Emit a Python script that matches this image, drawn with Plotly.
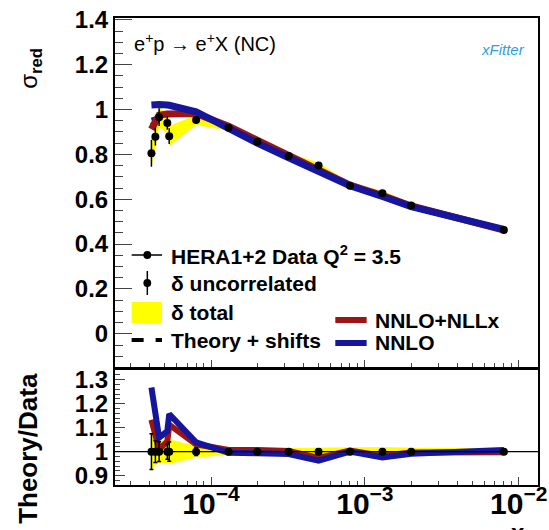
import plotly.graph_objects as go

# ---- data: reduced cross section at Q^2 = 3.5 GeV^2 ----
x_vals = [4.1e-5, 4.35e-5, 4.6e-5, 5.2e-5, 5.35e-5, 8.0e-5, 1.3e-4, 2.0e-4,
          3.2e-4, 5.0e-4, 8.0e-4, 1.3e-3, 2.0e-3, 8.0e-3]
sigma_data = [0.805, 0.879, 0.966, 0.940, 0.881, 0.953, 0.919, 0.856,
              0.793, 0.750, 0.660, 0.627, 0.572, 0.463]
err_uncor = [0.060, 0.040, 0.040, 0.030, 0.035, 0.015, 0.008, 0.008,
             0.008, 0.008, 0.007, 0.007, 0.006, 0.005]
err_total = [0.065, 0.050, 0.045, 0.045, 0.045, 0.022, 0.014, 0.012,
             0.012, 0.014, 0.011, 0.012, 0.009, 0.007]

# theory predictions at the data points
theory_nnlo = [1.020, 1.022, 1.022, 1.020, 1.019, 0.990, 0.915, 0.850,
               0.785, 0.722, 0.660, 0.612, 0.567, 0.466]
theory_nllx = [0.912, 0.945, 0.975, 0.980, 0.980, 0.982, 0.925, 0.862,
               0.795, 0.730, 0.663, 0.616, 0.570, 0.462]
# theory including correlated shifts
shifted_nnlo = [0.955, 0.960, 0.970, 0.975, 0.976, 0.980, 0.920, 0.857,
                0.790, 0.726, 0.661, 0.614, 0.569, 0.464]
shifted_nllx = [0.930, 0.950, 0.968, 0.975, 0.976, 0.980, 0.922, 0.859,
                0.792, 0.728, 0.662, 0.615, 0.570, 0.463]

BLUE = "#16169c"
RED = "#9c1414"
YELLOW = "#ffff00"
FONT = "Liberation Sans"

W, H = 549, 530
ML, MR, MT, MB = 115, 2, 18, 45
PW, PH = W - ML - MR, H - MT - MB


def px2x(p):
    return (p - ML) / PW


def py2y(p):
    return (H - MB - p) / PH


ratio_nnlo = [t / d for t, d in zip(theory_nnlo, sigma_data)]
ratio_nllx = [t / d for t, d in zip(theory_nllx, sigma_data)]
ratio_err = [e / d for e, d in zip(err_uncor, sigma_data)]
ratio_tot = [e / d for e, d in zip(err_total, sigma_data)]

fig = go.Figure()

# ---- upper panel ----
band_up = [d + e for d, e in zip(sigma_data, err_total)]
band_lo = [d - e for d, e in zip(sigma_data, err_total)]
fig.add_trace(go.Scatter(
    x=x_vals + x_vals[::-1], y=band_up + band_lo[::-1], fill="toself",
    fillcolor=YELLOW, line=dict(width=0), mode="lines",
    xaxis="x", yaxis="y", hoverinfo="skip"))
fig.add_trace(go.Scatter(x=x_vals, y=shifted_nllx, mode="lines",
                         line=dict(color=RED, width=4, dash="dash"),
                         xaxis="x", yaxis="y"))
fig.add_trace(go.Scatter(x=x_vals, y=shifted_nnlo, mode="lines",
                         line=dict(color=BLUE, width=4, dash="dash"),
                         xaxis="x", yaxis="y"))
fig.add_trace(go.Scatter(x=x_vals, y=theory_nllx, mode="lines",
                         line=dict(color=RED, width=7),
                         xaxis="x", yaxis="y"))
fig.add_trace(go.Scatter(x=x_vals, y=theory_nnlo, mode="lines",
                         line=dict(color=BLUE, width=7),
                         xaxis="x", yaxis="y"))
fig.add_trace(go.Scatter(
    x=x_vals, y=sigma_data, mode="markers",
    marker=dict(color="black", size=8),
    error_y=dict(type="data", array=err_uncor, color="black",
                 thickness=1.5, width=0),
    xaxis="x", yaxis="y"))

# ---- ratio panel ----
rb_up = [1 + e for e in ratio_tot]
rb_lo = [1 - e for e in ratio_tot]
fig.add_trace(go.Scatter(
    x=x_vals + x_vals[::-1], y=rb_up + rb_lo[::-1], fill="toself",
    fillcolor=YELLOW, line=dict(width=0), mode="lines",
    xaxis="x2", yaxis="y2", hoverinfo="skip"))
fig.add_trace(go.Scatter(x=x_vals, y=ratio_nllx, mode="lines",
                         line=dict(color=RED, width=6),
                         xaxis="x2", yaxis="y2"))
fig.add_trace(go.Scatter(x=x_vals, y=ratio_nnlo, mode="lines",
                         line=dict(color=BLUE, width=6),
                         xaxis="x2", yaxis="y2"))
fig.add_trace(go.Scatter(
    x=x_vals, y=[1.0] * len(x_vals), mode="markers",
    marker=dict(color="black", size=8),
    error_y=dict(type="data", array=ratio_err, color="black",
                 thickness=1.5, width=2),
    xaxis="x2", yaxis="y2"))

xrange = [-4.624, -1.875]
axis_common = dict(showline=True, linecolor="black", linewidth=2,
                   mirror=True, showgrid=False, zeroline=False)
tickfont = dict(family=FONT, size=24, color="black", weight="bold")

fig.update_layout(
    width=W, height=H, showlegend=False,
    margin=dict(l=ML, r=MR, t=MT, b=MB),
    paper_bgcolor="white", plot_bgcolor="white",
    xaxis=dict(type="log", range=xrange, domain=[0, 1], anchor="y",
               ticks="inside", ticklen=7, dtick=1, showticklabels=False,
               minor=dict(ticks="inside", ticklen=4, dtick="D1",
                          showgrid=False),
               **axis_common),
    yaxis=dict(range=[-0.148, 1.408], domain=[py2y(367), 1], anchor="x",
               tick0=0, dtick=0.2, ticks="inside", ticklen=17,
               minor=dict(ticks="inside", ticklen=8, dtick=0.05,
                          showgrid=False),
               tickfont=tickfont, **axis_common),
    xaxis2=dict(type="log", range=xrange, domain=[0, 1], anchor="y2",
                ticks="inside", ticklen=8, dtick=1,
                exponentformat="power", tickfont=tickfont,
                ticklabelstandoff=-8, ticklabeloverflow="allow",
                minor=dict(ticks="inside", ticklen=4, dtick="D1",
                           showgrid=False),
                **axis_common),
    yaxis2=dict(range=[0.861, 1.340], domain=[0, py2y(370)], anchor="x2",
                tick0=0.9, dtick=0.1, ticks="inside", ticklen=10,
                minor=dict(ticks="inside", ticklen=5, dtick=0.02,
                           showgrid=False),
                tickfont=tickfont, **axis_common),
)

# unity line in the ratio panel
fig.add_shape(type="line", xref="x2 domain", yref="y2", x0=0, x1=1,
              y0=1, y1=1, line=dict(color="black", width=1.2))

ann = []
# axis titles
ann.append(dict(text="σ<sub><b>red</b></sub>", x=px2x(28), y=py2y(68),
                xref="paper", yref="paper", showarrow=False, textangle=-90,
                xanchor="center", yanchor="middle",
                font=dict(family=FONT, size=24, color="black")))
ann.append(dict(text="<b>Theory/Data</b>", x=px2x(26), y=py2y(448),
                xref="paper", yref="paper", showarrow=False, textangle=-90,
                xanchor="center", yanchor="middle",
                font=dict(family=FONT, size=26, color="black")))
ann.append(dict(text="<b>x</b>", x=px2x(527), y=py2y(517),
                xref="paper", yref="paper", showarrow=False,
                xanchor="center", yanchor="top",
                font=dict(family=FONT, size=24, color="black")))
# process label
ann.append(dict(text="e<sup>+</sup>p → e<sup>+</sup>X (NC)",
                x=px2x(132), y=py2y(43), xref="paper", yref="paper",
                showarrow=False, xanchor="left", yanchor="middle",
                font=dict(family=FONT, size=20, color="black")))
# fitter logo
ann.append(dict(text="xFitter", x=px2x(511), y=py2y(50), xref="paper",
                yref="paper", showarrow=False, xanchor="center",
                yanchor="middle",
                font=dict(family=FONT, size=15, color="#2e9fe0",
                          style="italic")))

# legend
leg_font = dict(family=FONT, size=21, color="black", weight="bold")
rows = [("HERA1+2 Data Q<sup>2</sup> = 3.5", 255),
        ("δ uncorrelated", 283),
        ("δ total", 312),
        ("Theory + shifts", 340)]
for txt, yy in rows:
    ann.append(dict(text=txt, x=px2x(170), y=py2y(yy), xref="paper",
                    yref="paper", showarrow=False, xanchor="left",
                    yanchor="middle", font=leg_font))
for txt, yy in [("NNLO+NLLx", 320), ("NNLO", 343)]:
    ann.append(dict(text=txt, x=px2x(378), y=py2y(yy), xref="paper",
                    yref="paper", showarrow=False, xanchor="left",
                    yanchor="middle", font=leg_font))
fig.update_layout(annotations=ann)

shp = []
# data entry: line with dot
shp.append(dict(type="line", xref="paper", yref="paper",
                x0=px2x(132), x1=px2x(163), y0=py2y(255), y1=py2y(255),
                line=dict(color="black", width=1.5)))
shp.append(dict(type="circle", xref="paper", yref="paper",
                x0=px2x(144), x1=px2x(152), y0=py2y(251), y1=py2y(259),
                fillcolor="black", line=dict(color="black", width=0)))
# uncorrelated entry: error bar with dot
shp.append(dict(type="line", xref="paper", yref="paper",
                x0=px2x(148), x1=px2x(148), y0=py2y(271), y1=py2y(295),
                line=dict(color="black", width=1.5)))
shp.append(dict(type="circle", xref="paper", yref="paper",
                x0=px2x(144), x1=px2x(152), y0=py2y(279), y1=py2y(287),
                fillcolor="black", line=dict(color="black", width=0)))
# total entry: yellow box
shp.append(dict(type="rect", xref="paper", yref="paper",
                x0=px2x(132), x1=px2x(163), y0=py2y(302), y1=py2y(323),
                fillcolor=YELLOW, line=dict(width=0)))
# shifts entry: dashed line
shp.append(dict(type="line", xref="paper", yref="paper",
                x0=px2x(132), x1=px2x(163), y0=py2y(340), y1=py2y(340),
                line=dict(color="black", width=4, dash="dash")))
# theory entries
shp.append(dict(type="line", xref="paper", yref="paper",
                x0=px2x(340), x1=px2x(372), y0=py2y(320), y1=py2y(320),
                line=dict(color=RED, width=6)))
shp.append(dict(type="line", xref="paper", yref="paper",
                x0=px2x(340), x1=px2x(372), y0=py2y(343), y1=py2y(343),
                line=dict(color=BLUE, width=6)))
for s in shp:
    fig.add_shape(**s)

fig.write_html("out.html")
